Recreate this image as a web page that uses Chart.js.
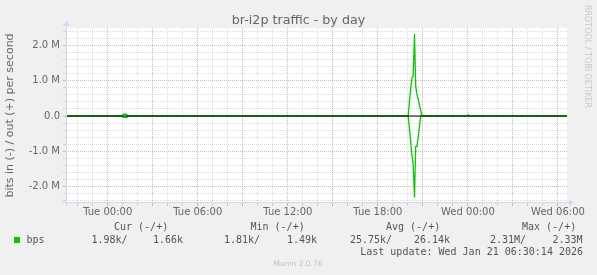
<!DOCTYPE html>
<html>
<head>
<meta charset="utf-8">
<script src="https://cdn.jsdelivr.net/npm/chart.js@4/dist/chart.umd.min.js"></script>
<style>
  html, body { margin: 0; padding: 0; background: #f0f0f0; }
  canvas { display: block; }
</style>
</head>
<body>
<canvas id="munin" width="597" height="275"></canvas>
<script>
// time in hours from Tue 00:00, values in Mbit/s
const hours   = [-2.78, 0.98, 1.03, 1.22, 1.27,
                 20.02, 20.10, 20.19, 20.27, 20.35, 20.44, 20.52, 20.60, 20.69, 20.77, 20.85, 20.94,
                 23.96, 24.02, 24.08, 30.6];
const outMbps = [0.0017, 0.0017, 0.05, 0.05, 0.0017,
                 0.0017, 0.4, 0.8, 1.08, 1.13, 2.33, 0.85, 0.62, 0.47, 0.32, 0.16, 0.0017,
                 0.0017, 0.035, 0.0017, 0.0017];
const inMbps  = [-0.002, -0.002, -0.04, -0.04, -0.002,
                 -0.002, -0.35, -0.75, -1.12, -1.36, -2.31, -0.86, -0.86, -0.6, -0.3, -0.002, -0.002,
                 -0.002, -0.002, -0.002, -0.002];

const xLabelHours = [0, 6, 12, 18, 24, 30];
const xLabelText  = ['Tue 00:00', 'Tue 06:00', 'Tue 12:00', 'Tue 18:00', 'Wed 00:00', 'Wed 06:00'];
const yLabelValues = [-2, -1, 0, 1, 2];
const yLabelText   = ['-2.0 M', '-1.0 M', '0.0', '1.0 M', '2.0 M'];

const legendHeaders = ['Cur (-/+)', 'Min (-/+)', 'Avg (-/+)', 'Max (-/+)'];
const legendIn  = ['1.98k/', '1.81k/', '25.75k/', '2.31M/'];
const legendOut = ['1.66k', '1.49k', '26.14k', '2.33M'];

const X_MIN = -2.78, X_MAX = 30.6;
const Y_MIN = -2.47, Y_MAX = 2.5;

const GREEN = '#00cc00';
const AXIS = '#cfd6f8';
const GRID = 'rgba(140,140,140,0.3)';
const MGRID = 'rgba(200,60,60,0.4)';
const FONT_COLOR = '#666666';

Chart.defaults.font.family = "'DejaVu Sans', sans-serif";

// white canvas, axis arrows, title and legend text, the rrdtool way
const muninDecor = {
    id: 'muninDecor',
    beforeDraw(chart) {
        const a = chart.chartArea;
        const c = chart.ctx;
        c.save();
        c.fillStyle = '#ffffff';
        c.fillRect(a.left, a.top, a.right - a.left, a.bottom - a.top);
        c.restore();
    },
    afterDraw(chart) {
        const a = chart.chartArea;
        const c = chart.ctx;
        const lx = Math.round(a.left) + 0.5;
        const by = Math.round(a.bottom) - 0.5;
        c.save();
        c.strokeStyle = AXIS;
        c.fillStyle = AXIS;
        c.lineWidth = 1;
        c.beginPath();
        c.moveTo(lx, a.top - 3);
        c.lineTo(lx, a.bottom + 3);
        c.moveTo(a.left - 3, by);
        c.lineTo(a.right + 3, by);
        c.stroke();
        // arrows
        c.beginPath();
        c.moveTo(lx - 3, a.top - 2);
        c.lineTo(lx + 3, a.top - 2);
        c.lineTo(lx, a.top - 7);
        c.closePath();
        c.fill();
        c.beginPath();
        c.moveTo(a.right + 2, by - 3);
        c.lineTo(a.right + 2, by + 3);
        c.lineTo(a.right + 7, by);
        c.closePath();
        c.fill();

        // title
        c.fillStyle = FONT_COLOR;
        c.font = "12.7px 'DejaVu Sans'";
        c.textAlign = 'center';
        c.textBaseline = 'alphabetic';
        c.fillText('br-i2p traffic - by day', 298.5, 23.5);

        // watermark
        c.fillStyle = '#c8c8c8';
        c.font = "8px 'DejaVu Sans'";
        c.translate(587, 5);
        c.rotate(Math.PI / 2);
        c.textAlign = 'left';
        c.textBaseline = 'middle';
        c.fillText('RRDTOOL / TOBI OETIKER', 0, 0);
        c.restore();

        // legend
        c.save();
        c.font = "10px 'DejaVu Sans Mono'";
        c.fillStyle = '#555555';
        c.textBaseline = 'middle';
        c.textAlign = 'left';
        const headX = [114, 250.5, 386, 522];
        legendHeaders.forEach((t, i) => c.fillText(t, headX[i], 227.5));
        c.fillStyle = GREEN;
        c.fillRect(14, 237, 6, 6);
        c.fillStyle = '#555555';
        c.fillText('bps', 26.5, 240);
        const inX = [91.5, 224, 350, 490];
        legendIn.forEach((t, i) => c.fillText(t, inX[i], 240));
        c.textAlign = 'right';
        const outR = [183, 317, 450, 582.5];
        legendOut.forEach((t, i) => c.fillText(t, outR[i], 240));
        c.fillText('Last update: Wed Jan 21 06:30:14 2026', 583, 252.5);
        c.textAlign = 'center';
        c.fillStyle = '#c0c0c0';
        c.font = "7.5px 'DejaVu Sans'";
        c.fillText('Munin 2.0.76', 298, 264);
        c.restore();
    }
};

const xTickHours = [];
for (let h = -2; h <= 30; h++) xTickHours.push(h);
const yTickValues = [];
for (let k = -12; k <= 12; k++) yTickValues.push(k / 5);

const isMajorY = (v) => Math.abs(v - Math.round(v)) < 1e-6;

new Chart(document.getElementById('munin'), {
    type: 'line',
    data: {
        datasets: [
            {
                label: 'zero',
                data: [{ x: X_MIN, y: 0 }, { x: X_MAX, y: 0 }],
                borderColor: '#000000',
                borderWidth: 1
            },
            {
                label: 'bps out',
                data: hours.map((h, i) => ({ x: h, y: outMbps[i] })),
                borderColor: GREEN,
                borderWidth: 1.3
            },
            {
                label: 'bps in',
                data: hours.map((h, i) => ({ x: h, y: inMbps[i] })),
                borderColor: GREEN,
                borderWidth: 1.3
            }
        ]
    },
    options: {
        responsive: false,
        devicePixelRatio: 1,
        animation: false,
        events: [],
        elements: {
            point: { radius: 0 },
            line: { tension: 0 }
        },
        layout: {
            padding: { left: 2, right: 30, top: 28, bottom: 52 }
        },
        plugins: {
            legend: { display: false },
            tooltip: { enabled: false },
            title: { display: false }
        },
        scales: {
            x: {
                type: 'linear',
                min: X_MIN,
                max: X_MAX,
                afterBuildTicks: (scale) => {
                    scale.ticks = xTickHours.map(v => ({ value: v }));
                },
                afterFit: (scale) => { scale.height = 20; },
                border: { display: false, dash: [1, 1] },
                grid: {
                    color: (ctx) => (ctx.tick && ctx.tick.value % 3 === 0) ? MGRID : GRID,
                    tickLength: 3
                },
                ticks: {
                    autoSkip: false,
                    maxRotation: 0,
                    padding: 0,
                    color: FONT_COLOR,
                    font: { size: 10 },
                    callback: (v) => {
                        const i = xLabelHours.indexOf(v);
                        return i >= 0 ? xLabelText[i] : '';
                    }
                }
            },
            y: {
                type: 'linear',
                min: Y_MIN,
                max: Y_MAX,
                afterBuildTicks: (scale) => {
                    scale.ticks = yTickValues.map(v => ({ value: v }));
                },
                afterFit: (scale) => { scale.width = 64; },
                border: { display: false, dash: [1, 1] },
                grid: {
                    color: (ctx) => (ctx.tick && isMajorY(ctx.tick.value)) ? MGRID : GRID,
                    tickLength: 3
                },
                title: {
                    display: true,
                    text: 'bits in (-) / out (+) per second',
                    color: FONT_COLOR,
                    font: { size: 11 },
                    padding: { top: 2, bottom: 0 }
                },
                ticks: {
                    autoSkip: false,
                    padding: 3,
                    color: FONT_COLOR,
                    font: { size: 10 },
                    callback: (v) => {
                        const i = yLabelValues.findIndex(t => Math.abs(t - v) < 1e-6);
                        return i >= 0 ? yLabelText[i] : '';
                    }
                }
            }
        }
    },
    plugins: [muninDecor]
});
</script>
</body>
</html>
